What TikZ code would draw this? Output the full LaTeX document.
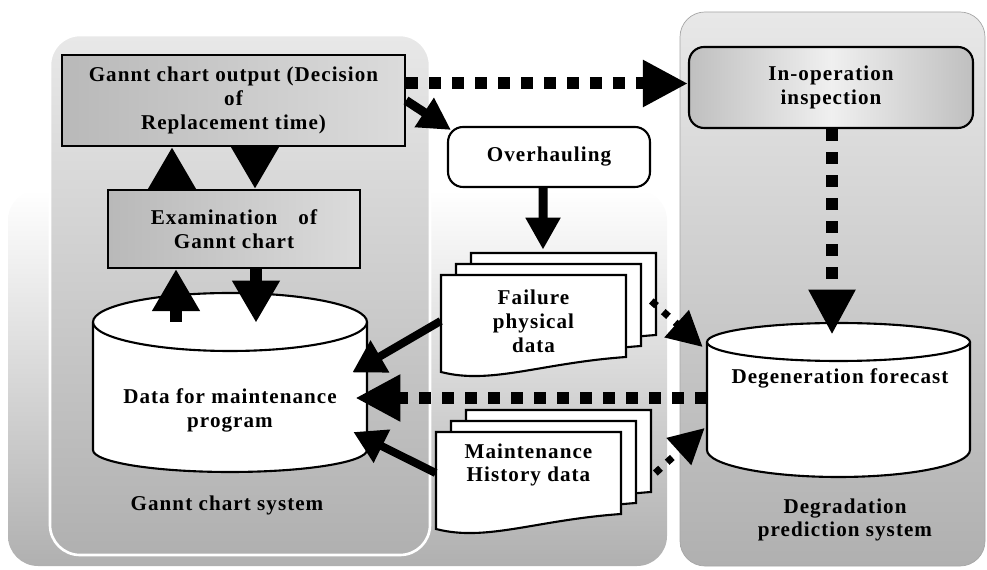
\documentclass[tikz,border=0pt]{standalone}
\usepackage{fontspec}
\setmainfont{Liberation Serif}[LetterSpace=5]
\usetikzlibrary{arrows.meta, positioning, calc}

% one page of a document stack, top left corner at (#1,#2)
\newcommand{\docpage}[2]{%
  \filldraw[fill=white, line width=1.2pt] (#1,#2) -- ({#1+185},#2) -- ({#1+185},{#2+82})
    .. controls ({#1+100},{#2+88}) and ({#1+50},{#2+110}) .. (#1,{#2+97}) -- cycle;}

\begin{document}
\begin{tikzpicture}[x=0.02cm, y=-0.02cm,
  every node/.style={font=\fontsize{12}{13.6}\selectfont\bfseries, align=center},
  box/.style={draw, line width=1.2pt, left color=gray!55, right color=gray!28},
  rbox/.style={draw, line width=1.2pt, rounded corners=0.3cm},
  ghost/.style={inner sep=0pt},
  panel/.style={rounded corners=0.6cm, top color=gray!18, bottom color=gray!62},
  bigarr/.style={line width=0.24cm, -{Triangle[length=0.84cm, width=0.9cm]}},
  arr/.style={line width=0.18cm, -{Triangle[length=0.64cm, width=0.66cm]}},
  slimarr/.style={line width=0.16cm, -{Triangle[length=0.64cm, width=0.7cm]}},
  dotarr/.style={line width=0.24cm, dash pattern=on 0.24cm off 0.22cm,
    -{Triangle[length=0.9cm, width=0.88cm]}},
  slimdot/.style={line width=0.14cm, dash pattern=on 0.14cm off 0.18cm,
    -{Triangle[length=0.7cm, width=0.7cm]}}]
  \useasboundingbox (0,0) rectangle (987,570);

  % Hintergrund
  \shade[rounded corners=0.6cm, top color=white, bottom color=gray!62]
    (8,190) rectangle (667,566);
  \draw[panel, draw=white, line width=1.5pt] (50,35) rectangle (430,555);
  \draw[panel, draw=gray!70, rounded corners=0.5cm] (680,12) rectangle (985,566);

  % Gantt-System
  \node[box, minimum width=6.86cm, minimum height=1.82cm] (gout) at (233.5,100.5)
    {Gannt chart output (Decision\\of\\Replacement time)};
  \node[box, minimum width=5.04cm, minimum height=1.56cm] (exam) at (234,229)
    {Examination\quad of\\Gannt chart};
  \filldraw[fill=white, line width=1.2pt] (93,322) -- (93,450)
    arc[start angle=180, end angle=360, x radius=2.74cm, y radius=0.44cm] -- (367,322);
  \filldraw[fill=white, line width=1.2pt] (230,322) ellipse [x radius=2.74cm, y radius=0.58cm];
  \node[ghost, minimum width=5.48cm, minimum height=3.58cm] (dmp) at (230,382.5) {};
  \node at (230,410) {Data for maintenance\\program};
  \node (gsys) at (227,505) {Gannt chart system};

  % Mitte
  \node[rbox, fill=white, minimum width=4.04cm, minimum height=1.2cm] (ovh) at (549,157)
    {Overhauling};
  \docpage{471}{253} \docpage{456}{264} \docpage{441}{275}
  \node[ghost, minimum width=3.7cm, minimum height=1.94cm] (fail) at (533.5,321)
    {Failure\\physical\\data};
  \docpage{466}{410} \docpage{451}{421} \docpage{436}{432}
  \node[ghost, minimum width=3.7cm, minimum height=1.94cm] (maint) at (528.5,465)
    {Maintenance\\History data};

  % Prognose-System
  \node[rbox, minimum width=5.68cm, minimum height=1.62cm,
    left color=gray!50, right color=gray!50, middle color=gray!12] (inop) at (831,87.5)
    {In-operation\\inspection};
  \filldraw[fill=white, line width=1.2pt] (707,342) -- (707,450)
    arc[start angle=180, end angle=360, x radius=2.63cm, y radius=0.54cm] -- (970,342);
  \filldraw[fill=white, line width=1.2pt] (838.5,342) ellipse [x radius=2.63cm, y radius=0.38cm];
  \node[ghost, minimum width=5.26cm, minimum height=3.12cm] (degf) at (838.5,398) {};
  \node at (840,378) {Degeneration forecast};
  \node (dps) at (845,520) {Degradation\\prediction system};

  % Pfeile
  \draw[bigarr] ($(exam.north)+(-62,0)$) -- ($(gout.south)+(-61.5,0)$);
  \draw[bigarr] ($(gout.south)+(21.5,0)$) -- ($(exam.north)+(21,0)$);
  \draw[bigarr] ($(dmp.north)+(-54,29)$) -- ($(exam.south)+(-58,0)$);
  \draw[bigarr] ($(exam.south)+(22,0)$) -- ($(dmp.north)+(26,30)$);
  \draw[arr] (gout.east) -- ($(ovh.north west)+(4,4)$);
  \draw[arr] ($(ovh.south)+(-6,0)$) -- ($(fail.north)+(9.5,-22.5)$);
  \draw[slimarr] (fail.west) -- ($(dmp.east)+(-15,-10)$);
  \draw[slimarr] ($(maint.west)+(0,8)$) -- ($(dmp.east)+(-14,49.5)$);
  \draw[dotarr] ($(gout.east |- inop.west)+(0,-4)$) -- ($(inop.west)+(0,-4)$);
  \draw[dotarr] ($(inop.south)+(1,0)$) -- ($(degf.north)+(-6.5,15)$);
  \draw[dotarr] (degf.west) -- ($(degf.west -| dmp.east)+(-12,0)$);
  \draw[slimdot] ($(fail.east)+(25,-20)$) -- ($(degf.west)+(-4,-51)$);
  \draw[slimdot] ($(maint.east)+(34,8)$) -- ($(degf.west)+(-2,30)$);
\end{tikzpicture}
\end{document}
